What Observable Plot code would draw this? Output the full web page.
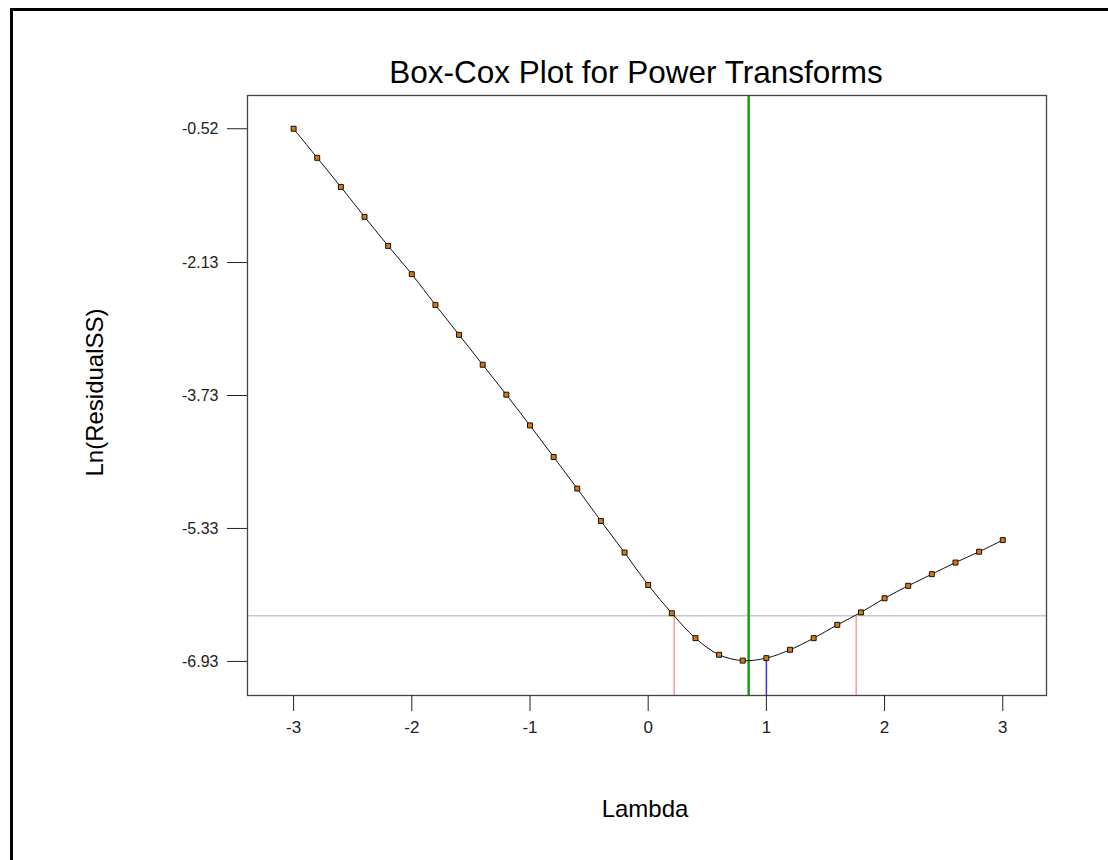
<!DOCTYPE html>
<html>
<head>
<meta charset="utf-8">
<script src="https://cdn.jsdelivr.net/npm/d3@7"></script>
<script src="https://cdn.jsdelivr.net/npm/@observablehq/plot@0.6"></script>
<style>
  html, body { margin: 0; padding: 0; background: #fff; overflow: hidden; }
  #wrap { position: relative; width: 1108px; height: 860px; }
  #border { position: absolute; left: 10px; top: 8px; width: 1200px; height: 1000px;
            border-left: 3px solid #000; border-top: 3px solid #000; pointer-events: none; }
</style>
</head>
<body>
<div id="wrap"><div id="border"></div></div>
<script>
// Data
const lambdas = [-3.0,-2.8,-2.6,-2.4,-2.2,-2.0,-1.8,-1.6,-1.4,-1.2,-1.0,-0.8,-0.6,-0.4,-0.2,0.0,
                 0.2,0.4,0.6,0.8,1.0,1.2,1.4,1.6,1.8,2.0,2.2,2.4,2.6,2.8,3.0];
const lnRSS = [-0.52,-0.87,-1.22,-1.58,-1.93,-2.27,-2.64,-3.00,-3.36,-3.72,-4.09,-4.47,-4.85,-5.24,-5.62,-6.01,
               -6.35,-6.65,-6.85,-6.92,-6.89,-6.79,-6.65,-6.49,-6.34,-6.17,-6.02,-5.88,-5.74,-5.61,-5.47];
const xTicks = [-3,-2,-1,0,1,2,3];
const yTicks = [-0.52,-2.13,-3.73,-5.33,-6.93];
const bestLambda = 0.85;          // green line
const ciLower = 0.22, ciUpper = 1.76; // pink lines
const ciLevel = -6.38;            // gray horizontal line
const chosenLambda = 1.0;         // blue line
const chosenValue = -6.89;

const points = lambdas.map((x, i) => ({x, y: lnRSS[i]}));
const font = "'Liberation Sans', Arial, sans-serif";

const chart = Plot.plot({
  width: 1108,
  height: 860,
  marginLeft: 247,
  marginRight: 62,
  marginTop: 95,
  marginBottom: 165,
  style: {fontFamily: font, color: "#222", background: "transparent"},
  x: {domain: [-3.39, 3.37], label: null},
  y: {domain: [-7.34, -0.12], label: null},
  marks: [
    Plot.ruleY([ciLevel], {stroke: "#c8c8c8", strokeWidth: 1.5}),
    Plot.ruleX([ciLower, ciUpper], {y1: -7.34, y2: ciLevel, stroke: "#ff9a9a", strokeWidth: 1.5}),
    Plot.ruleX([chosenLambda], {y1: -7.34, y2: chosenValue, stroke: "#3333ee", strokeWidth: 1.5}),
    Plot.ruleX([bestLambda], {stroke: "#1a9c1a", strokeWidth: 2.5}),
    Plot.line(points, {x: "x", y: "y", stroke: "#111", strokeWidth: 1, curve: "catmull-rom"}),
    Plot.dot(points, {x: "x", y: "y", symbol: "square", r: 2.8, fill: "#d9780a", stroke: "#111", strokeWidth: 1}),
    Plot.frame({stroke: "#444", strokeWidth: 1.3}),
    Plot.axisX({ticks: xTicks, tickFormat: d => `${d}`, tickSize: 16, tickPadding: 9, fontSize: 17, label: null}),
    Plot.axisY({ticks: yTicks, tickFormat: d => d.toFixed(2), tickSize: 20, tickPadding: 9, fontSize: 16, label: null}),
    Plot.text(["Box-Cox Plot for Power Transforms"], {frameAnchor: "top", dx: -11, dy: -23, fontSize: 31.5, lineAnchor: "middle", fill: "#000"}),
    Plot.text(["Lambda"], {frameAnchor: "bottom", dx: -2, dy: 114, fontSize: 24, lineAnchor: "middle", fill: "#000"}),
    Plot.text(["Ln(ResidualSS)"], {frameAnchor: "left", textAnchor: "middle", dx: -152, dy: -3, rotate: -90, fontSize: 24, lineAnchor: "middle", fill: "#000"})
  ]
});
document.getElementById("wrap").prepend(chart);
</script>
</body>
</html>
